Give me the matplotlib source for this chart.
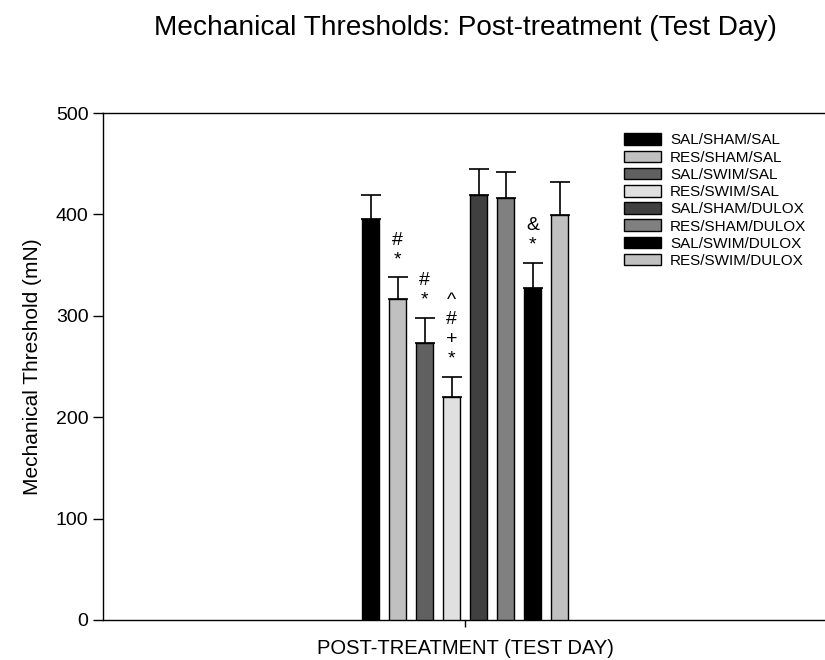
import numpy as np
import matplotlib.pyplot as plt

plt.rcParams['font.family'] = ['Liberation Sans', 'DejaVu Sans']

groups = ["SAL/SHAM/SAL", "RES/SHAM/SAL", "SAL/SWIM/SAL", "RES/SWIM/SAL",
          "SAL/SHAM/DULOX", "RES/SHAM/DULOX", "SAL/SWIM/DULOX", "RES/SWIM/DULOX"]
means = [395, 317, 273, 220, 419, 416, 327, 399]
sems = [24, 21, 25, 20, 26, 26, 25, 33]
colors = ["#000000", "#c0c0c0", "#606060", "#e0e0e0",
          "#404040", "#808080", "#000000", "#c0c0c0"]
marks = ["", "#\n*", "#\n*", "^\n#\n+\n*", "", "", "&\n*", ""]
category = "POST-TREATMENT (TEST DAY)"

fig = plt.figure(figsize=(8.25, 6.6), dpi=100)
# axes spans slightly past the right edge like the original export
ax = fig.add_axes([103 / 825, 40 / 660, 724 / 825, 507 / 660])

step = 27 / 724
width = 17 / 724
x = (np.arange(len(groups)) - 3.5) * step

bars = ax.bar(x, means, width=width, color=colors, edgecolor="black",
              linewidth=1, label=groups, zorder=3)
ax.errorbar(x, means, yerr=[np.zeros(len(sems)), sems], fmt="none",
            ecolor="black", elinewidth=1.2, capsize=7, capthick=1.2, zorder=2)

for xi, m, s, t in zip(x, means, sems, marks):
    if t:
        ax.text(xi, m + s + 9, t, ha="center", va="bottom", fontsize=14,
                linespacing=1.2)

ax.set_xlim(-0.5, 0.5)
ax.set_ylim(0, 500)
ax.set_yticks([0, 100, 200, 300, 400, 500])
ax.set_xticks([0])
ax.set_xticklabels([category])
ax.tick_params(axis="y", direction="out", length=7, width=1, labelsize=14)
ax.tick_params(axis="x", direction="out", length=5, width=1, labelsize=14.5, pad=9)
ax.set_ylabel("Mechanical Threshold (mN)", fontsize=15, labelpad=10)
for sp in ax.spines.values():
    sp.set_linewidth(1)

fig.suptitle("Mechanical Thresholds: Post-treatment (Test Day)", fontsize=20.2,
             x=465 / 825, y=0.977)

ax.legend(bars, groups, loc="upper left", bbox_to_anchor=(0.711, 0.972),
          frameon=False, fontsize=11, handlelength=2.42, handleheight=0.8,
          labelspacing=0.2, handletextpad=0.6, borderaxespad=0)

fig.savefig("out.png", dpi=100)
